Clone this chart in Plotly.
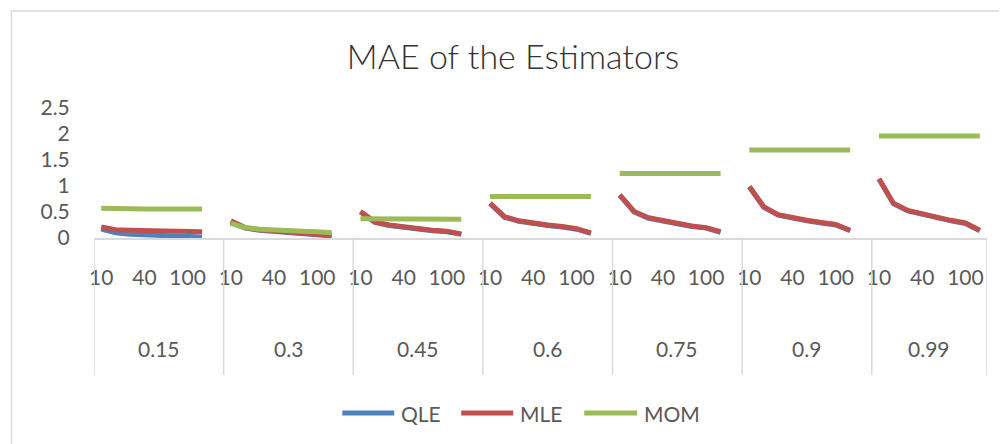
import plotly.graph_objects as go

# ---------------- data ----------------
rho_groups = ["0.15", "0.3", "0.45", "0.6", "0.75", "0.9", "0.99"]
sample_sizes = [10, 20, 30, 40, 50, 75, 100, 200]
shown_sizes = [10, 40, 100]

qle = [
    [0.17, 0.10, 0.07, 0.06, 0.05, 0.04, 0.03, 0.02],
    [0.30, 0.19, 0.15, 0.13, 0.11, 0.09, 0.07, 0.04],
    [0.50, 0.30, 0.24, 0.20, 0.17, 0.14, 0.12, 0.07],
    [0.66, 0.40, 0.32, 0.27, 0.24, 0.21, 0.17, 0.09],
    [0.82, 0.50, 0.38, 0.32, 0.28, 0.22, 0.19, 0.11],
    [0.98, 0.59, 0.44, 0.38, 0.33, 0.29, 0.25, 0.14],
    [1.13, 0.66, 0.52, 0.45, 0.39, 0.33, 0.28, 0.14],
]
mle = [
    [0.21, 0.16, 0.15, 0.14, 0.14, 0.13, 0.13, 0.12],
    [0.33, 0.20, 0.16, 0.14, 0.12, 0.10, 0.08, 0.05],
    [0.51, 0.31, 0.25, 0.21, 0.18, 0.15, 0.13, 0.08],
    [0.67, 0.41, 0.33, 0.28, 0.25, 0.22, 0.18, 0.10],
    [0.83, 0.51, 0.39, 0.33, 0.29, 0.23, 0.20, 0.12],
    [0.99, 0.60, 0.45, 0.39, 0.34, 0.30, 0.26, 0.15],
    [1.14, 0.67, 0.53, 0.46, 0.40, 0.34, 0.29, 0.15],
]
mom = [
    [0.57, 0.56, 0.56, 0.56, 0.56, 0.56, 0.56, 0.56],
    [0.28, 0.20, 0.17, 0.15, 0.14, 0.13, 0.12, 0.10],
    [0.37, 0.37, 0.37, 0.37, 0.37, 0.36, 0.36, 0.36],
    [0.80, 0.80, 0.80, 0.80, 0.80, 0.80, 0.80, 0.80],
    [1.24, 1.24, 1.24, 1.24, 1.24, 1.24, 1.24, 1.24],
    [1.69, 1.69, 1.69, 1.69, 1.69, 1.69, 1.69, 1.69],
    [1.96, 1.96, 1.96, 1.96, 1.96, 1.96, 1.96, 1.96],
]

series_names = ["QLE", "MLE", "MOM"]
series_colors = ["#4F81BD", "#C0504D", "#9BBB59"]

# ---------------- layout geometry ----------------
OFF = 8  # page body margin in the browser
W, H = 1007 - OFF, 444 - OFF
PL, PR, PT, PB = 93.6 - OFF, 987.0 - OFF, 108.0 - OFF, 238.0 - OFF  # plot area (figure px)
slot = len(sample_sizes) + 1                  # one blank slot between groups
n_slots = slot * (len(rho_groups) - 1) + len(sample_sizes)

def py(screen_y):
    return (PB - (screen_y - OFF)) / (PB - PT)

def px(screen_x):
    return ((screen_x - OFF) - PL) / (PR - PL)

TEXT = "#595959"
GRID = "#D9D9D9"
FONT = "Lato"

# Build x / y arrays with gaps between groups
xs = []
ys = {name: [] for name in series_names}
for g in range(len(rho_groups)):
    for k in range(len(sample_sizes)):
        xs.append(g * slot + k)
        for name, data in zip(series_names, [qle, mle, mom]):
            ys[name].append(data[g][k])
    if g < len(rho_groups) - 1:
        xs.append(g * slot + len(sample_sizes))
        for name in series_names:
            ys[name].append(None)

fig = go.Figure()
for name, color in zip(series_names, series_colors):
    fig.add_trace(go.Scatter(
        x=xs, y=ys[name], mode="lines", name=name,
        line=dict(color=color, width=5), connectgaps=False,
        cliponaxis=False, showlegend=False,
    ))

tickvals, ticktext = [], []
for g in range(len(rho_groups)):
    for k, n in enumerate(sample_sizes):
        if n in shown_sizes:
            tickvals.append(g * slot + k)
            ticktext.append(str(n))

shapes = []
bounds = [g * slot - 0.5 for g in range(len(rho_groups))] + [n_slots - 0.5]
for b in bounds:
    shapes.append(dict(type="line", xref="x", yref="paper", x0=b, x1=b,
                       y0=0, y1=py(375), line=dict(color=GRID, width=1.5)))
shapes.append(dict(type="rect", xref="paper", yref="paper",
                   x0=px(11), x1=px(1030), y0=py(11), y1=py(470),
                   line=dict(color=GRID, width=1.5), layer="below"))

annotations = []
for g, lab in enumerate(rho_groups):
    n_in = len(sample_sizes)
    center = g * slot + (n_in - 1) / 2 + (0.5 if g < len(rho_groups) - 1 else 0)
    annotations.append(dict(x=center, y=py(348), xref="x", yref="paper",
                            yanchor="middle", xanchor="center",
                            text=lab, showarrow=False,
                            font=dict(family=FONT, size=21, color=TEXT)))

# legend drawn as line samples + labels (Excel style, long line keys)
legend_line_x = [(342, 394), (461, 513), (584, 637)]
legend_text_x = [399, 518, 642]
LEG_Y = 413
for name, color, (a, b), tx in zip(series_names, series_colors, legend_line_x, legend_text_x):
    shapes.append(dict(type="line", xref="paper", yref="paper",
                       x0=px(a), x1=px(b), y0=py(LEG_Y), y1=py(LEG_Y),
                       line=dict(color=color, width=5)))
    annotations.append(dict(x=px(tx), y=py(LEG_Y), xref="paper", yref="paper",
                            xanchor="left", yanchor="middle", text=name,
                            showarrow=False,
                            font=dict(family=FONT, size=21, color=TEXT)))

fig.update_layout(
    width=W, height=H,
    margin=dict(l=PL, r=W - PR, t=PT, b=H - PB, autoexpand=False),
    paper_bgcolor="white", plot_bgcolor="white",
    title=dict(text="MAE of the Estimators", x=(513 - OFF) / W, xref="container",
               y=1 - (57 - OFF) / H, yref="container", xanchor="center", yanchor="middle",
               font=dict(family=FONT, size=34, color="#333333", weight=300)),
    xaxis=dict(range=[-0.5, n_slots - 0.5], tickvals=tickvals, ticktext=ticktext,
               showgrid=False, zeroline=False, showline=True, linecolor=GRID,
               linewidth=1.5, ticks="outside", ticklen=20,
               tickcolor="rgba(0,0,0,0)",
               tickfont=dict(family=FONT, size=21, color=TEXT)),
    yaxis=dict(range=[0, 2.5], tickvals=[0, 0.5, 1, 1.5, 2, 2.5],
               ticktext=["0", "0.5", "1", "1.5", "2", "2.5"],
               showgrid=False, zeroline=False, showline=False,
               ticks="outside", ticklen=19, tickcolor="rgba(0,0,0,0)",
               tickfont=dict(family=FONT, size=21, color=TEXT)),
    shapes=shapes, annotations=annotations,
    showlegend=False,
)

fig.write_html("out.html")
